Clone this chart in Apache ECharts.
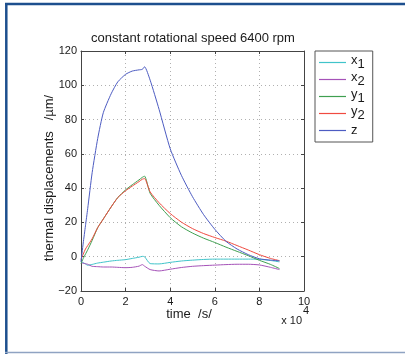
<!DOCTYPE html>
<html>
<head>
<meta charset="utf-8">
<script src="https://cdn.jsdelivr.net/npm/echarts@6/dist/echarts.min.js"></script>
<style>
  html, body { margin: 0; padding: 0; background: #fff; }
  #chart { width: 405px; height: 354px; }
</style>
</head>
<body>
<div id="chart"></div>
<script>
// time in units of 10^4 s
const times = [0, 0.1, 0.2, 0.3, 0.5, 0.75, 1.0, 1.35, 1.65, 2.0, 2.3, 2.6, 2.75, 2.85, 3.1, 3.5, 4.0, 4.5, 5.0, 5.5, 6.0, 6.5, 7.0, 7.5, 8.0, 8.5, 8.9];
const x1 = [-3, -3.5, -4.2, -5, -4.5, -3.7, -3.2, -2.5, -2.1, -1.7, -1, -0.3, 0.2, 0, -4, -4.2, -3.3, -2.5, -2, -1.6, -1.4, -1.4, -1.4, -1.4, -1.5, -2.2, -3];
const x2 = [-3.5, -3.8, -4.1, -4.4, -5.6, -5.8, -6, -6, -6.2, -6.4, -6.2, -5.5, -4.6, -5.5, -7.5, -8.3, -7.3, -6.3, -5.6, -5.2, -4.9, -4.6, -4.4, -4.4, -4.8, -6.2, -7.5];
const y1 = [-4, -1, 1.5, 4, 9.5, 17, 22, 29, 34.5, 39, 42, 44.8, 46.3, 47, 37, 30, 22.8, 17.5, 13.8, 10.8, 8.3, 5.6, 3.1, 0.6, -2.1, -4.5, -6.9];
const y2 = [-1.5, 1.5, 4.5, 6.5, 10.5, 17, 22, 29, 34.5, 38.5, 41.2, 43.8, 45.2, 45.6, 37.8, 31.5, 25.2, 20.2, 16.4, 13.5, 11.2, 9.1, 6.5, 3.9, 1.2, -1, -2.3];
const z = [-3, 8, 18, 28, 49, 69, 84, 95, 102, 106.4, 108.3, 109, 109.3, 110.8, 103, 86, 63, 47.5, 35, 24.5, 16, 9, 4.5, 1.2, -1.2, -2, -2.4];

const seriesNames = ["x1", "x2", "y1", "y2", "z"];
const seriesValues = [x1, x2, y1, y2, z];
const seriesColors = ["#40c4ca", "#a552b8", "#3f9f50", "#f04a40", "#4d5cc2"];

const font = "Liberation Sans, Arial, sans-serif";
const chart = echarts.init(document.getElementById("chart"));

const toPairs = (vals) => vals.map((v, i) => [times[i], v]);
const minusFmt = (v) => String(v).replace("-", "\u2212");

const frameAxis = (position) => ({
    type: "value",
    position,
    axisLine: { show: true, onZero: false, lineStyle: { color: "#444", width: 1 } },
    axisTick: { show: true, inside: true, length: 3, lineStyle: { color: "#444" } },
    axisLabel: { show: false },
    splitLine: { show: false },
});

chart.setOption({
    animation: false,
    backgroundColor: "#fff",
    color: seriesColors,
    grid: { left: 81, top: 51, width: 223, height: 240, show: false },
    xAxis: [
        {
            type: "value", min: 0, max: 10, interval: 2,
            axisLine: { show: true, onZero: false, lineStyle: { color: "#444", width: 1 } },
            axisTick: { show: true, inside: true, length: 3, lineStyle: { color: "#444" } },
            axisLabel: { color: "#1a1a1a", fontSize: 11, fontFamily: font, margin: 5, formatter: minusFmt },
            splitLine: { show: true, lineStyle: { color: "#b0b0b0", type: [1, 3], width: 1 } },
        },
        { ...frameAxis("top"), min: 0, max: 10, interval: 2 },
    ],
    yAxis: [
        {
            type: "value", min: -20, max: 120, interval: 20,
            axisLine: { show: true, onZero: false, lineStyle: { color: "#444", width: 1 } },
            axisTick: { show: true, inside: true, length: 3, lineStyle: { color: "#444" } },
            axisLabel: { color: "#1a1a1a", fontSize: 11, fontFamily: font, margin: 4, formatter: minusFmt },
            splitLine: { show: true, lineStyle: { color: "#b0b0b0", type: [1, 3], width: 1 } },
        },
        { ...frameAxis("right"), min: -20, max: 120, interval: 20 },
    ],
    legend: {
        orient: "vertical",
        left: 315, top: 51,
        padding: [3, 8, 3, 4],
        itemGap: 0,
        itemWidth: 27,
        itemHeight: 1.2,
        icon: "rect",
        borderColor: "#555",
        borderWidth: 1,
        backgroundColor: "#fff",
        data: seriesNames,
        formatter: (name) => name.length > 1 ? `{b|${name[0]}}{s|${name[1]}}` : `{z|${name}}`,
        textStyle: {
            fontFamily: font,
            color: "#1a1a1a",
            rich: {
                b: { fontSize: 13, fontFamily: font, color: "#1a1a1a", lineHeight: 11, padding: [0, 0, 4, 0] },
                s: { fontSize: 13, fontFamily: font, color: "#1a1a1a", lineHeight: 11, padding: [4, 0, 0, 0] },
                z: { fontSize: 13, fontFamily: font, color: "#1a1a1a", lineHeight: 11, padding: [2, 0, 2, 0] },
            },
        },
    },
    series: seriesNames.map((name, i) => ({
        name,
        type: "line",
        data: toPairs(seriesValues[i]),
        showSymbol: false,
        symbol: "none",
        smooth: 0.2,
        lineStyle: { width: 1, color: seriesColors[i] },
        itemStyle: { color: seriesColors[i] },
    })),
    graphic: [
        // page frame
        { type: "line", shape: { x1: 5, y1: 4, x2: 405, y2: 4 }, style: { stroke: "#1d4f8e", lineWidth: 2.5 } },
        { type: "line", shape: { x1: 6.3, y1: 3, x2: 6.3, y2: 354 }, style: { stroke: "#1d4f8e", lineWidth: 2.5 } },
        { type: "line", shape: { x1: 5, y1: 352.5, x2: 405, y2: 352.5 }, style: { stroke: "#8fa3c2", lineWidth: 1.5 } },
        { type: "text", x: 193, y: 38, style: { text: "constant rotational speed 6400 rpm", font: `13px ${font}`, fill: "#1a1a1a", textAlign: "center", textVerticalAlign: "middle" } },
        { type: "text", x: 49, y: 178, rotation: Math.PI / 2, style: { text: "thermal displacements   /\u00b5m/", font: `13px ${font}`, fill: "#1a1a1a", textAlign: "center", textVerticalAlign: "middle" } },
        { type: "text", x: 189, y: 314, style: { text: "time  /s/", font: `13px ${font}`, fill: "#1a1a1a", textAlign: "center", textVerticalAlign: "middle" } },
        { type: "text", x: 302, y: 321, style: { text: "x 10", font: `11px ${font}`, fill: "#1a1a1a", textAlign: "right", textVerticalAlign: "middle" } },
        { type: "text", x: 303, y: 311, style: { text: "4", font: `11px ${font}`, fill: "#1a1a1a", textAlign: "left", textVerticalAlign: "middle" } },
    ],
});
</script>
</body>
</html>
